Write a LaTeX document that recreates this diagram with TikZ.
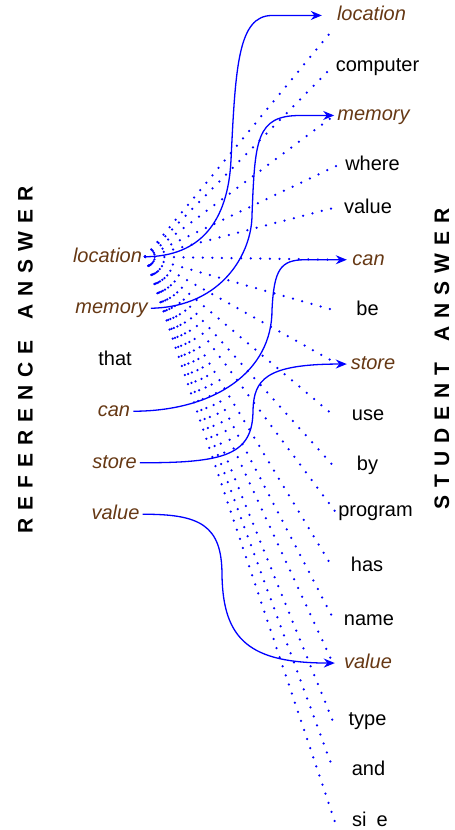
\documentclass[tikz,border=0pt]{standalone}
\usepackage{fontspec}
\setmainfont{Liberation Sans}
\newfontfamily\titlefont{Liberation Sans}[UprightFont={* Bold}]
\usetikzlibrary{arrows.meta}
\definecolor{matchbrown}{HTML}{663814}
\newcommand\lsp{\kern8pt}
\newcommand\wsp{\kern21pt}
\begin{document}
\begin{tikzpicture}[x=1pt,y=-1pt,
  word/.style={anchor=base, inner sep=3pt, text height=15pt, text depth=4.5pt,
    font=\fontsize{20pt}{24pt}\selectfont},
  rword/.style={word, minimum width=70pt},
  hit/.style={text=matchbrown, font=\fontsize{20pt}{24pt}\selectfont\itshape},
  side/.style={rotate=90, inner sep=0pt, font=\titlefont\fontsize{21pt}{25pt}\selectfont},
  dotline/.style={blue, line width=2.5pt, line cap=round, dash pattern=on 0pt off 9.6pt},
  link/.style={blue, line width=1.3pt, -{Stealth[length=11pt,width=9pt]}}]

\path[use as bounding box] (0,0) rectangle (455,830);

% side titles
\node[side] (reftitle) at (25.5,360) {R\lsp E\lsp F\lsp E\lsp R\lsp E\lsp N\lsp C\lsp E\wsp A\lsp N\lsp S\lsp W\lsp E\lsp R};
\node[side] (stutitle) at (442,359) {S\lsp T\lsp U\lsp D\lsp E\lsp N\lsp T\wsp A\lsp N\lsp S\lsp W\lsp E\lsp R};

% reference answer words
\node[word,hit] (lloc) at (107.5,262)   {location};
\node[word,hit] (lmem) at (111.5,313.5) {memory};
\node[word]     (lthat) at (115,365)    {that};
\node[word,hit] (lcan) at (114,416.5)   {can};
\node[word,hit] (lsto) at (114.5,468)   {store};
\node[word,hit] (lval) at (115.5,519.5) {value};

% student answer words
\node[rword,hit] (r1)  at (371.5,20.7)  {location};
\node[rword]     (r2)  at (377.5,71.7)  {computer};
\node[rword,hit] (r3)  at (373.5,120.7) {memory};
\node[rword]     (r4)  at (372.5,170.7) {where};
\node[rword]     (r5)  at (368,213.3)   {value};
\node[rword,hit] (r6)  at (368.5,265)   {can};
\node[rword]     (r7)  at (367.5,315)   {be};
\node[rword,hit] (r8)  at (373,369.3)   {store};
\node[rword]     (r9)  at (368,420)     {use};
\node[rword]     (r10) at (367.5,470)   {by};
\node[rword]     (r11) at (375.5,516.7) {program};
\node[rword]     (r12) at (367,571.7)   {has};
\node[rword]     (r13) at (369,625)     {name};
\node[rword,hit] (r14) at (368,668.3)   {value};
\node[rword]     (r15) at (367.5,725)   {type};
\node[rword]     (r16) at (368.5,775)   {and};
\node[rword]     (r17) at (370,826.7)   {si\hspace{10pt}e};

% candidate alignments from "location"
\draw[dotline] (lloc.east) -- (r1.south west);
\foreach \n in {r2,r3,r4,r5,r6,r7,r8,r9,r10,r11,r12,r13,r14,r15,r16,r17}
  \draw[dotline] (lloc.east) -- (\n.west);

% chosen alignments
\draw[link] (lloc.east) .. controls (200,256.5) and (228,222) .. (231,160)
  .. controls (235.5,67) and (238,15.5) .. (272,15.5) -- ([xshift=-12pt]r1.west);
\draw[link] (lmem.east) .. controls (223,307) and (252,252) .. (252,215)
  .. controls (255,140) and (256,115.5) .. (300,115.5) -- (r3.west);
\draw[link] (lcan.east) .. controls (216,411) and (272,371) .. (272,310)
  .. controls (274,270) and (280,259.75) .. (305,259.75) -- ([xshift=13.5pt]r6.west);
\draw[link] (lsto.east) .. controls (225,463) and (253,455) .. (253,410)
  .. controls (254,380) and (265,364) .. ([xshift=9pt]r8.west);
\draw[link] (lval.east) .. controls (200,514) and (222,525) .. (222,575)
  .. controls (223,640) and (250,663) .. ([xshift=2pt]r14.west);
\end{tikzpicture}
\end{document}
